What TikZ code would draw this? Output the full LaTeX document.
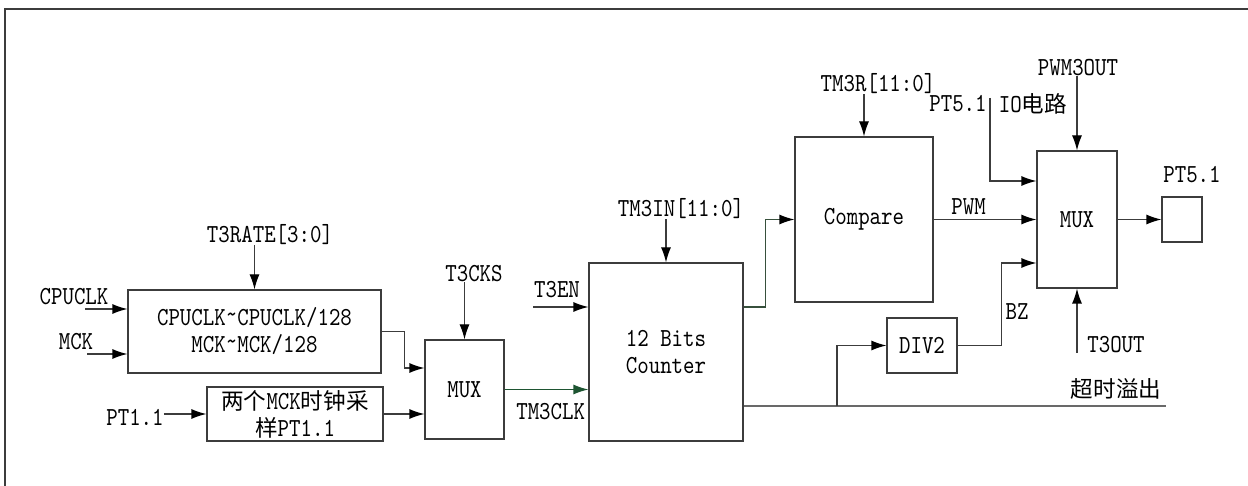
\documentclass[tikz,border=0pt]{standalone}
\usepackage{fontspec}
\newfontfamily\sigfont{lmmono10-regular.otf}[FakeStretch=0.84]
\newfontfamily\cjk{Noto Sans CJK SC}
\newcommand\zh[1]{{\cjk\fontsize{22.6pt}{27pt}\selectfont #1}}
\newcommand\upto{\raisebox{0.35ex}{\textasciitilde}}
\usetikzlibrary{arrows.meta,calc,positioning}
\definecolor{wiregray}{RGB}{60,60,60}
\definecolor{clkgreen}{RGB}{30,85,50}
\definecolor{cmpgreen}{RGB}{55,80,60}
\definecolor{busgray}{RGB}{105,105,105}
\tikzset{%
	block/.style    = {draw=wiregray, line width=1.2pt, rectangle, inner sep=0pt, align=center},
	signal/.style   = {rectangle, inner sep=0pt}, % signal name
	waypoint/.style = {coordinate},
	wire/.style     = {draw=wiregray, line width=1.2pt},
	bus/.style      = {draw=busgray, line width=2pt},
	arrow/.style    = {wire, -{Latex[length=15pt,width=10pt,color=black]}},
}

\begin{document}
\begin{tikzpicture}[x=1pt, y=-1pt, font=\sigfont\fontsize{26pt}{27pt}\selectfont]
	\useasboundingbox (0,0) rectangle (1248,486);
	\draw[wire] (5,486) -- (5,9) -- (1248,9);

	% blocks
	\node[block, minimum width=253pt, minimum height=83pt] (prescale) at (254.5,331.5) {CPUCLK\upto CPUCLK/128\\MCK\upto MCK/128};
	\node[block, minimum width=176pt, minimum height=54pt] (sample) at (295,414) {\zh{两个}MCK\zh{时钟采}\\\zh{样}PT1.1};
	\node[block, minimum width=79pt, minimum height=99pt] (mux1) at (464.5,389.5) {MUX};
	\node[block, minimum width=154pt, minimum height=178pt] (cnt) at (666,352) {12 Bits\\Counter};
	\node[block, minimum width=138pt, minimum height=165pt] (cmp) at (864,219.5) {Compare};
	\node[block, minimum width=70pt, minimum height=55pt] (div2) at (922,345.5) {DIV2};
	\node[block, minimum width=80pt, minimum height=137pt] (mux2) at (1077,219.5) {MUX};
	\node[block, minimum width=40pt, minimum height=45pt] (pin) at (1182,219.5) {};

	% signal names
	\node[signal] (rate) at (270,235) {T3RATE[3:0]};
	\node[signal] (cpuclk) at (74,297) {CPUCLK};
	\node[signal] (mck) at (76,342) {MCK};
	\node[signal] (pt11) at (135,417) {PT1.1};
	\node[signal] (cks) at (474,274) {T3CKS};
	\node[signal] (en) at (557,290) {T3EN};
	\node[signal] (tmin) at (681,209) {TM3IN[11:0]};
	\node[signal] (tmr) at (878,84) {TM3R[11:0]};
	\node[signal] (pwmout) at (1078,68) {PWM3OUT};
	\node[signal] (iopt) at (958,104) {PT5.1};
	\node[signal] (iockt) at (1033,104) {IO\zh{电路}};
	\node[signal] (bz) at (1017,312) {BZ};
	\node[signal] (t3out) at (1116,345) {T3OUT};
	\node[signal] (timeout) at (1116,389) {\zh{超时溢出}};
	\node[signal] (pinname) at (1192,175) {PT5.1};

	\node[waypoint] (cpuin) at (85,309) {};
	\node[waypoint] (mckin) at (87,354) {};
	\node[waypoint] (enin) at (533,307) {};
	\node[waypoint] (ioin) at (990,98) {};
	\node[waypoint] (outin) at (1077,353) {};
	\node[waypoint] (tap) at (837,406) {};
	\node[waypoint] (busend) at (1166,406) {};

	% connections
	\draw[arrow] (rate.south -| prescale) -- (prescale.north);
	\draw[arrow] (cpuin) -- (cpuin -| prescale.west);
	\draw[arrow] (mckin) -- (mckin -| prescale.west);
	\draw[arrow] (pt11.east |- sample) -- (sample.west);
	\draw[arrow] (prescale.east) -- ++(23,0) |- ([yshift=21.5pt]mux1.west);
	\draw[arrow] (sample.east) -- (sample.east -| mux1.west);
	\draw[arrow] (cks.south -| mux1) -- (mux1.north);
	\draw[arrow, draw=clkgreen, -{Latex[length=15pt,width=10pt,color=clkgreen]}] (mux1.east) -- node[signal, pos=0.55, below=13pt] (clkname) {TM3CLK} (mux1.east -| cnt.west);
	\draw[arrow] (enin) -- (enin -| cnt.west);
	\draw[arrow] (tmin.south -| cnt) -- (cnt.north);
	\draw[arrow, draw=cmpgreen] ([yshift=45pt]cnt.east) -- ++(22,0) |- (cmp.west);
	\draw[bus] ([yshift=-54pt]cnt.east) -- (busend);
	\draw[arrow] (tap) |- (div2.west);
	\draw[arrow] (tmr.south -| cmp) -- (cmp.north);
	\draw[arrow] (cmp.east) -- node[signal, pos=0.34, above=4pt] (pwm) {PWM} (mux2.west);
	\draw[arrow] (ioin) |- ([yshift=38.5pt]mux2.west);
	\draw[arrow] (div2.east) -- ++(44,0) |- ([yshift=-43.5pt]mux2.west);
	\draw[arrow] (pwmout.south -| mux2) -- (mux2.north);
	\draw[arrow] (outin) -- (mux2.south);
	\draw[arrow] (mux2.east) -- (pin.west);
\end{tikzpicture}
\end{document}
